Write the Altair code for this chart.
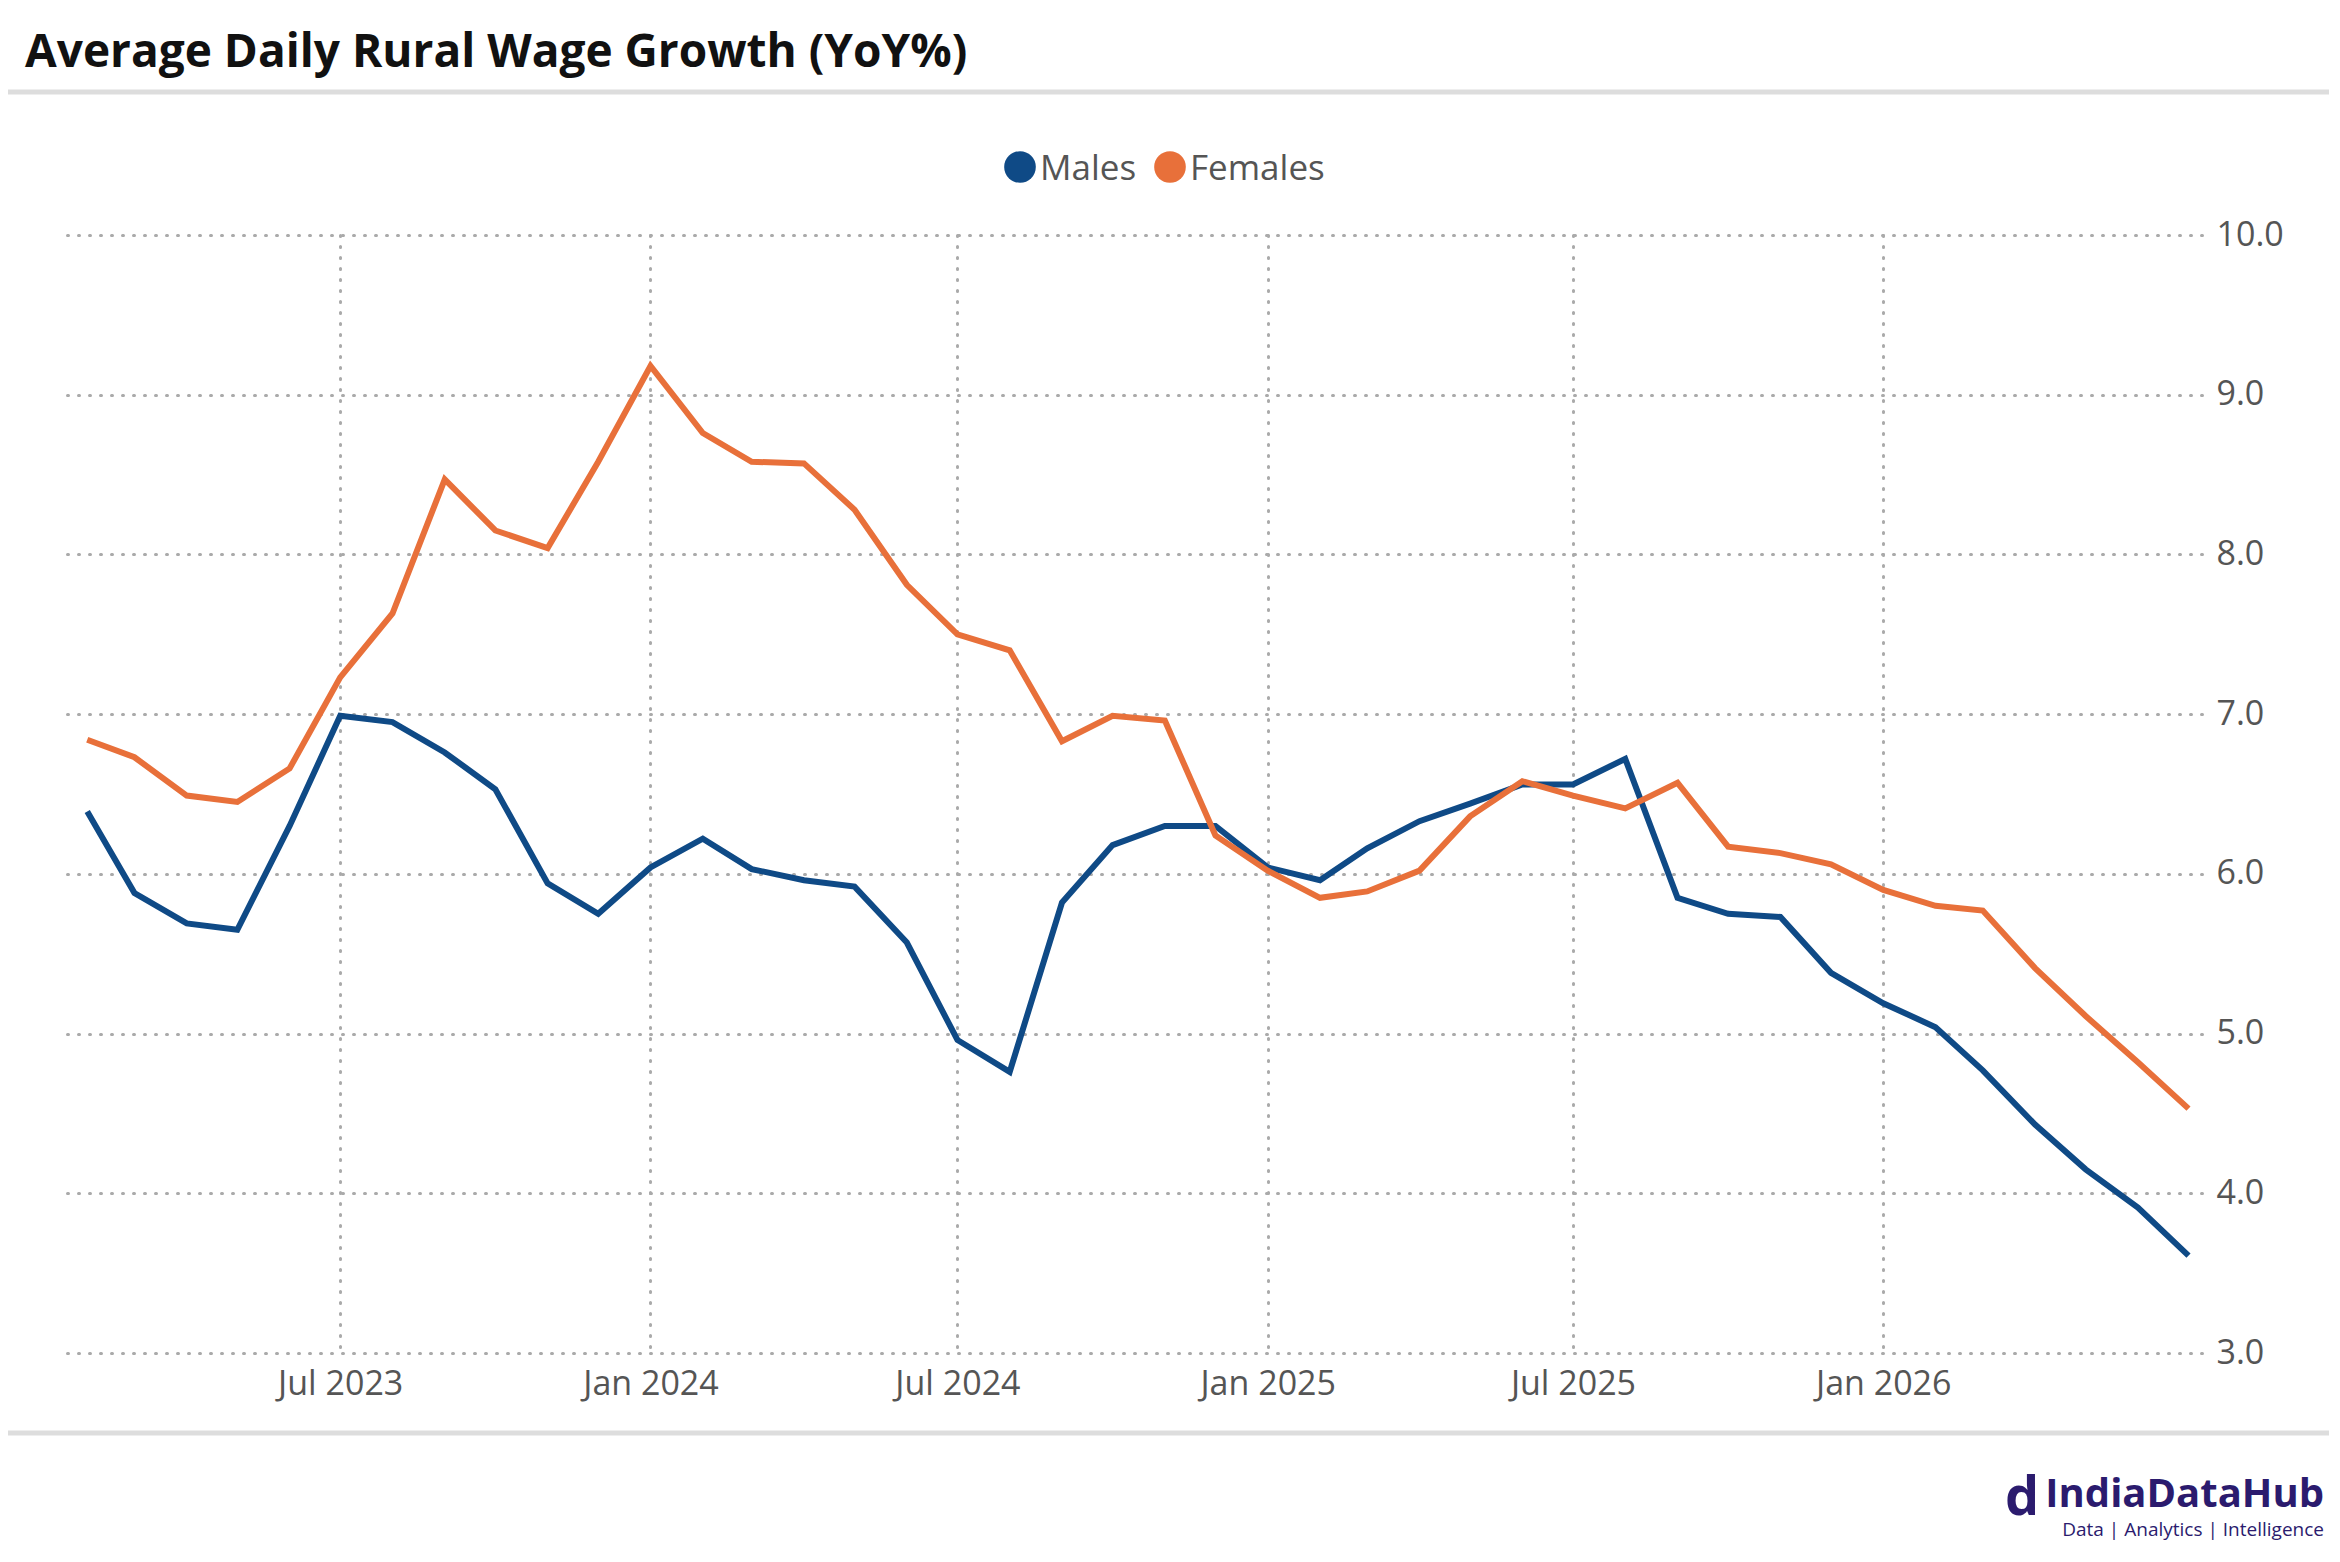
import pandas as pd
import altair as alt

months = pd.date_range("2023-02-01", "2026-07-01", freq="MS").strftime("%Y-%m-%d").tolist()

males = [6.39, 5.88, 5.69, 5.65, 6.30, 6.99, 6.95, 6.76, 6.53, 5.94, 5.75, 6.04,
         6.22, 6.03, 5.96, 5.92, 5.57, 4.96, 4.76, 5.82, 6.18, 6.30, 6.30, 6.04,
         5.96, 6.16, 6.33, 6.44, 6.56, 6.56, 6.72, 5.85, 5.75, 5.73, 5.38, 5.19,
         5.04, 4.77, 4.43, 4.15, 3.91, 3.61]
females = [6.84, 6.73, 6.49, 6.45, 6.66, 7.23, 7.63, 8.47, 8.15, 8.04, 8.58, 9.18,
           8.76, 8.58, 8.57, 8.28, 7.81, 7.50, 7.40, 6.83, 6.99, 6.96, 6.24, 6.02,
           5.85, 5.89, 6.02, 6.36, 6.58, 6.49, 6.41, 6.57, 6.17, 6.13, 6.06, 5.90,
           5.80, 5.77, 5.41, 5.11, 4.82, 4.53]

tick_dates = ["2023-07-01", "2024-01-01", "2024-07-01", "2025-01-01", "2025-07-01", "2026-01-01"]

df = pd.DataFrame({
    "date": months * 2,
    "value": males + females,
    "series": ["Males"] * len(months) + ["Females"] * len(months),
})

W, H = 2135, 1118
FONT = "Open Sans"
BLUE, ORANGE = "#0f4a86", "#e8703a"

lines = alt.Chart(df).mark_line(strokeWidth=6).encode(
    x=alt.X("date:T", title=None,
            scale=alt.Scale(domain=["2023-01-20", "2026-07-09"]),
            axis=alt.Axis(values=tick_dates, format="%b %Y", labelFontSize=34, labelColor="#555",
                          labelFont=FONT, grid=True, gridDash=[1, 10], gridColor="#aaa", gridWidth=3,
                          gridCap="round", domain=False, ticks=False, labelPadding=14)),
    y=alt.Y("value:Q", title=None,
            scale=alt.Scale(domain=[3, 10], nice=False, zero=False),
            axis=alt.Axis(orient="right", values=[3, 4, 5, 6, 7, 8, 9, 10], format=".1f",
                          labelFontSize=34, labelColor="#555", labelFont=FONT,
                          grid=True, gridDash=[1, 10], gridColor="#aaa", gridWidth=3, gridCap="round",
                          domain=False, ticks=False, labelPadding=14)),
    color=alt.Color("series:N", sort=["Males", "Females"],
                    scale=alt.Scale(domain=["Males", "Females"], range=[BLUE, ORANGE]),
                    legend=None),
)

leg = pd.DataFrame({"label": ["Males", "Females"], "c": [BLUE, ORANGE],
                    "px": [953, 1103]})
leg_dot = alt.Chart(leg).mark_circle(size=1000, opacity=1).encode(
    x=alt.X("px:Q", scale=None), y=alt.value(-68), color=alt.Color("c:N", scale=None))
leg_txt = alt.Chart(leg).mark_text(align="left", baseline="middle", fontSize=35, font=FONT,
                                    color="#555").encode(
    x=alt.X("px:Q", scale=None), y=alt.value(-66), text="label:N", xOffset=alt.value(20))

title = alt.Chart(pd.DataFrame({"t": ["Average Daily Rural Wage Growth (YoY%)"]})).mark_text(
    align="left", baseline="alphabetic", fontSize=46, fontWeight="bold", font=FONT, color="#111"
).encode(text="t:N", x=alt.value(-42), y=alt.value(-168))

top_rule = alt.Chart(pd.DataFrame({"a": [0]})).mark_rule(color="#ddd", strokeWidth=5).encode(
    x=alt.value(-60), x2=alt.value(2262), y=alt.value(-143))
bot_rule = alt.Chart(pd.DataFrame({"a": [0]})).mark_rule(color="#ddd", strokeWidth=5).encode(
    x=alt.value(-60), x2=alt.value(2262), y=alt.value(1198))

logo = alt.Chart(pd.DataFrame({"t": ["IndiaDataHub"]})).mark_text(
    align="right", baseline="alphabetic", fontSize=40, fontWeight="bold", font=FONT, color="#2b1b6e"
).encode(text="t:N", x=alt.value(2257), y=alt.value(1272))
logo_sub = alt.Chart(pd.DataFrame({"t": ["Data | Analytics | Intelligence"]})).mark_text(
    align="right", baseline="alphabetic", fontSize=19, font=FONT, color="#2b1b6e"
).encode(text="t:N", x=alt.value(2257), y=alt.value(1301))
logo_icon = alt.Chart(pd.DataFrame({"t": ["d"]})).mark_text(
    align="center", baseline="alphabetic", fontSize=54, fontWeight="bold", font=FONT, color="#2b1b6e"
).encode(text="t:N", x=alt.value(1955), y=alt.value(1280))

chart = alt.layer(top_rule, bot_rule, lines, leg_dot, leg_txt, title, logo, logo_sub, logo_icon).properties(
    width=W, height=H,
    autosize=alt.AutoSizeParams(type="none"),
    padding={"left": 59, "top": 227, "right": 130, "bottom": 201},
).configure(background="white", view=alt.ViewConfig(stroke="transparent", strokeWidth=0))

chart.save("out.html", embed_options={"renderer": "svg", "actions": False})
